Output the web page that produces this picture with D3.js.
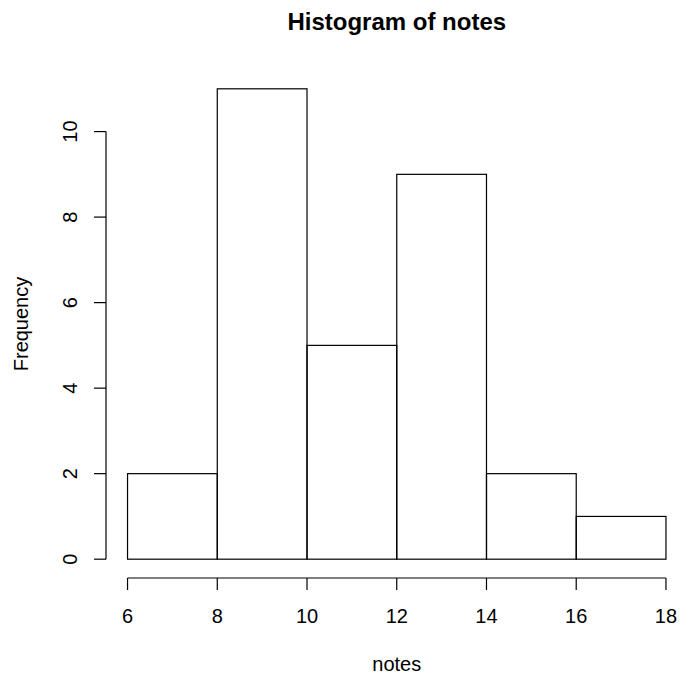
<!DOCTYPE html>
<html>
<head>
<meta charset="utf-8">
<script src="https://cdn.jsdelivr.net/npm/d3@7"></script>
<style>
  html, body { margin: 0; padding: 0; background: #fff; }
  svg { display: block; font-family: "Liberation Sans", Arial, Helvetica, sans-serif; }
</style>
</head>
<body>
<svg id="chart" width="682" height="680"></svg>
<script>
// Histogram bins: lower/upper break points and counts
const binStarts = [6, 8, 10, 12, 14, 16];
const binEnds = [8, 10, 12, 14, 16, 18];
const counts = [2, 11, 5, 9, 2, 1];
const xTicks = [6, 8, 10, 12, 14, 16, 18];
const yTicks = [0, 2, 4, 6, 8, 10];

const title = "Histogram of notes";
const xLabel = "notes";
const yLabel = "Frequency";

const svg = d3.select("#chart");

// Plot region with R-style 4% padding of the data range
const xMin = 6, xMax = 18, yMin = 0, yMax = 11;
const xPad = (xMax - xMin) * 0.04, yPad = (yMax - yMin) * 0.04;
const x = d3.scaleLinear().domain([xMin - xPad, xMax + xPad]).range([106, 687.5]);
const y = d3.scaleLinear().domain([yMin - yPad, yMax + yPad]).range([578, 70]);

const ink = "#000";
const lw = 1.2;
const tickLen = 12;
const labelSize = 20;

// Bars
svg.append("g")
  .selectAll("rect")
  .data(counts)
  .join("rect")
  .attr("x", (d, i) => x(binStarts[i]))
  .attr("y", d => y(d))
  .attr("width", (d, i) => x(binEnds[i]) - x(binStarts[i]))
  .attr("height", d => y(0) - y(d))
  .attr("fill", "none")
  .attr("stroke", ink)
  .attr("stroke-width", lw);

// X axis
const xAxisY = y(yMin - yPad);
const gx = svg.append("g");
gx.append("line")
  .attr("x1", x(xTicks[0])).attr("x2", x(xTicks[xTicks.length - 1]))
  .attr("y1", xAxisY).attr("y2", xAxisY)
  .attr("stroke", ink).attr("stroke-width", lw);
gx.selectAll("line.tick")
  .data(xTicks)
  .join("line")
  .attr("class", "tick")
  .attr("x1", d => x(d)).attr("x2", d => x(d))
  .attr("y1", xAxisY).attr("y2", xAxisY + tickLen)
  .attr("stroke", ink).attr("stroke-width", lw);
gx.selectAll("text")
  .data(xTicks)
  .join("text")
  .attr("x", d => x(d))
  .attr("y", 623)
  .attr("text-anchor", "middle")
  .attr("font-size", labelSize)
  .text(d => d);

// Y axis
const yAxisX = x(xMin - xPad);
const gy = svg.append("g");
gy.append("line")
  .attr("x1", yAxisX).attr("x2", yAxisX)
  .attr("y1", y(yTicks[0])).attr("y2", y(yTicks[yTicks.length - 1]))
  .attr("stroke", ink).attr("stroke-width", lw);
gy.selectAll("line.tick")
  .data(yTicks)
  .join("line")
  .attr("class", "tick")
  .attr("x1", yAxisX - tickLen).attr("x2", yAxisX)
  .attr("y1", d => y(d)).attr("y2", d => y(d))
  .attr("stroke", ink).attr("stroke-width", lw);
gy.selectAll("text")
  .data(yTicks)
  .join("text")
  .attr("transform", d => `translate(77,${y(d)}) rotate(-90)`)
  .attr("text-anchor", "middle")
  .attr("font-size", labelSize)
  .text(d => d);

// Titles
const midX = (x.range()[0] + x.range()[1]) / 2;
svg.append("text")
  .attr("x", midX)
  .attr("y", 30)
  .attr("text-anchor", "middle")
  .attr("font-size", 24)
  .attr("font-weight", "bold")
  .text(title);

svg.append("text")
  .attr("x", midX)
  .attr("y", 671)
  .attr("text-anchor", "middle")
  .attr("font-size", labelSize)
  .text(xLabel);

svg.append("text")
  .attr("transform", `translate(27.5,${(y.range()[0] + y.range()[1]) / 2}) rotate(-90)`)
  .attr("text-anchor", "middle")
  .attr("font-size", labelSize)
  .text(yLabel);
</script>
</body>
</html>
